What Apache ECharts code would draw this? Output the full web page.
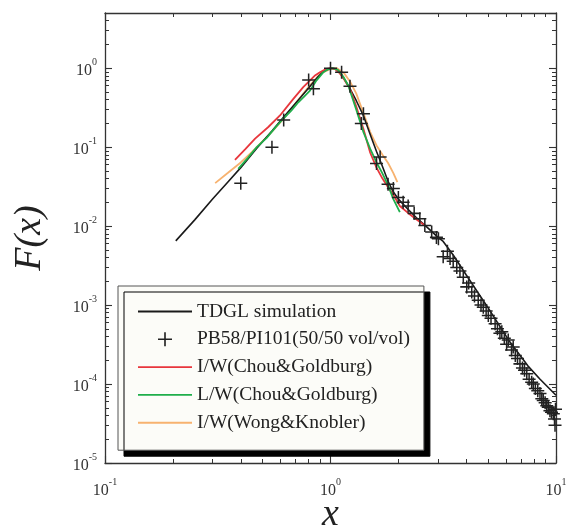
<!DOCTYPE html>
<html><head><meta charset="utf-8">
<script src="https://cdn.jsdelivr.net/npm/echarts@6/dist/echarts.min.js"></script>
<style>html,body{margin:0;padding:0;background:#fff}#c{width:566px;height:528px}</style>
</head><body><div id="c"></div>
<script>
// ---- data ----
const seriesNames = ['TDGL simulation', 'PB58/PI101(50/50 vol/vol)', 'I/W(Chou&Goldburg)', 'L/W(Chou&Goldburg)', 'I/W(Wong&Knobler)'];

const tdglX = [0.206, 0.25, 0.30, 0.35, 0.40, 0.47, 0.55, 0.62, 0.70, 0.80, 0.88, 0.94, 1.00, 1.05, 1.10, 1.20, 1.30, 1.40, 1.50, 1.60, 1.70, 1.80, 1.90, 2.00, 2.20, 2.40, 2.67, 3.00, 3.16, 3.50, 4.00, 5.00, 6.25, 7.50, 8.50, 10.0];
const tdglY = [0.0065, 0.012, 0.022, 0.036, 0.055, 0.096, 0.16, 0.24, 0.36, 0.56, 0.78, 0.93, 1.00, 0.98, 0.90, 0.60, 0.39, 0.25, 0.145, 0.088, 0.057, 0.037, 0.027, 0.022, 0.0165, 0.0128, 0.0098, 0.0072, 0.0064, 0.0043, 0.0024, 0.00092, 0.00034, 0.00017, 0.000115, 0.000072];

const expX = [0.40, 0.55, 0.62, 0.80, 0.84, 1.00, 1.12, 1.22, 1.40, 1.37, 1.66, 1.60, 1.80, 1.90, 2.00, 2.10, 2.21, 2.35, 2.49, 2.62, 2.81, 2.95, 3.01, 3.16, 3.30, 3.39, 3.50, 3.63, 3.75, 3.88, 4.02, 4.10, 4.23, 4.35, 4.52, 4.65, 4.76, 4.90, 5.01, 5.15, 5.37, 5.50, 5.64, 5.75, 5.90, 6.04, 6.14, 6.35, 6.46, 6.60, 6.75, 6.92, 7.10, 7.25, 7.42, 7.60, 7.80, 7.93, 8.10, 8.30, 8.49, 8.65, 8.78, 8.95, 9.10, 9.24, 9.40, 9.55, 9.73, 9.85, 9.90, 9.95];
const expY = [0.035, 0.10, 0.22, 0.71, 0.55, 1.00, 0.89, 0.59, 0.265, 0.20, 0.075, 0.062, 0.034, 0.030, 0.023, 0.020, 0.018, 0.0145, 0.0124, 0.0102, 0.0084, 0.0072, 0.0069, 0.0041, 0.0048, 0.0039, 0.0036, 0.0030, 0.0027, 0.00225, 0.0017, 0.0019, 0.00146, 0.0013, 0.00115, 0.0010, 0.00094, 0.00084, 0.00074, 0.00068, 0.00058, 0.00050, 0.00044, 0.00046, 0.00038, 0.00032, 0.00036, 0.00027, 0.000295, 0.00023, 0.00021, 0.00018, 0.00016, 0.00015, 0.000135, 0.000115, 0.000105, 0.00010, 0.000088, 0.000082, 0.000076, 0.000065, 0.000062, 0.000058, 0.000053, 0.000051, 0.000046, 0.000044, 0.000042, 0.000036, 0.000030, 0.000048];

const redX = [0.377, 0.42, 0.463, 0.53, 0.597, 0.68, 0.757, 0.85, 0.898, 0.95, 1.00, 1.05, 1.10, 1.15, 1.22, 1.30, 1.40, 1.50, 1.60, 1.70, 1.80, 1.90, 2.03, 2.20, 2.40, 2.62];
const redY = [0.069, 0.095, 0.128, 0.18, 0.252, 0.40, 0.575, 0.80, 0.89, 0.97, 1.00, 0.97, 0.86, 0.72, 0.55, 0.33, 0.17, 0.085, 0.055, 0.040, 0.031, 0.025, 0.0180, 0.0148, 0.0122, 0.0102];

const greenX = [0.39, 0.43, 0.471, 0.52, 0.57, 0.617, 0.67, 0.72, 0.76, 0.811, 0.86, 0.93, 0.97, 1.02, 1.08, 1.14, 1.20, 1.30, 1.40, 1.50, 1.60, 1.69, 1.80, 1.90, 2.03];
const greenY = [0.053, 0.073, 0.10, 0.13, 0.178, 0.229, 0.29, 0.37, 0.43, 0.52, 0.68, 0.89, 0.96, 1.00, 0.95, 0.78, 0.60, 0.30, 0.155, 0.095, 0.064, 0.048, 0.033, 0.022, 0.015];

const orangeX = [0.308, 0.35, 0.40, 0.45, 0.54, 0.62, 0.70, 0.80, 0.90, 1.00, 1.07, 1.15, 1.22, 1.30, 1.40, 1.50, 1.60, 1.70, 1.80, 1.90, 1.98];
const orangeY = [0.035, 0.047, 0.064, 0.088, 0.148, 0.23, 0.36, 0.58, 0.85, 0.98, 1.00, 0.86, 0.68, 0.48, 0.27, 0.155, 0.105, 0.080, 0.063, 0.047, 0.036];

const xRange = [0.1, 10];
const yRange = [1e-5, 5];
const minorMultipliers = [2, 3, 4, 5, 6, 7, 8, 9];
const xDecades = [-1, 0];
const yDecades = [-5, -4, -3, -2, -1, 0];

// ---- build ----
const zip = (a, b) => a.map((v, i) => [v, b[i]]);
const minorLog = (decades, maxV) => {
  const out = [];
  decades.forEach(d => minorMultipliers.forEach(m => { const v = m * Math.pow(10, d); if (v <= maxV) out.push(Math.log10(v)); }));
  return out;
};
const FONT = 'Liberation Serif';
const AX = '#333';
const fmt = v => {
  const e = Math.log10(v);
  if (Math.abs(e - Math.round(e)) > 0.01) return '';
  return '{b|10}{s|' + Math.round(e) + '}';
};
const labelRich = {
  b: { fontFamily: FONT, fontSize: 16, color: AX, lineHeight: 22, verticalAlign: 'bottom' },
  s: { fontFamily: FONT, fontSize: 10, color: AX, lineHeight: 12, verticalAlign: 'top' }
};
const majorAxis = (pos, range, label, extra) => Object.assign({
  type: 'log', logBase: 10, min: range[0], max: range[1], position: pos,
  axisLine: { show: true, onZero: false, lineStyle: { color: AX, width: 1.3 } },
  axisTick: { show: true, inside: true, length: 7, lineStyle: { color: AX, width: 1.1 } },
  axisLabel: label || { show: false },
  splitLine: { show: false }, minorTick: { show: false }
}, extra || {});
const minorAxis = (pos, range, ticks) => ({
  type: 'value', min: Math.log10(range[0]), max: Math.log10(range[1]), position: pos,
  axisLine: { show: false, onZero: false },
  axisTick: { show: true, inside: true, length: 4, customValues: ticks, lineStyle: { color: AX, width: 1 } },
  axisLabel: { show: false }, splitLine: { show: false }
});

const xMinor = minorLog(xDecades, xRange[1]);
const yMinor = minorLog(yDecades, yRange[1]);

const plusPath = 'path://M-6,-0.7H6V0.7H-6Z M-0.7,-6H0.7V6H-0.7Z';
const lineIcon = 'path://M0,0H40V1.4H0Z';

const option = {
  animation: false,
  backgroundColor: '#fff',
  grid: { left: 105, right: 10, top: 13, bottom: 65, outerBoundsMode: 'none', containLabel: false },
  xAxis: [
    majorAxis('bottom', xRange, { show: true, formatter: fmt, rich: labelRich, margin: 14 }, {
      name: 'x', nameLocation: 'middle', nameGap: 33, nameMoveOverlap: false,
      nameTextStyle: { fontFamily: FONT, fontStyle: 'italic', fontSize: 38, color: '#222' }
    }),
    majorAxis('top', xRange, null),
    minorAxis('bottom', xRange, xMinor),
    minorAxis('top', xRange, xMinor)
  ],
  yAxis: [
    majorAxis('left', yRange, { show: true, formatter: fmt, rich: labelRich, margin: 8, showMaxLabel: false }, {
      name: 'F(x)', nameLocation: 'middle', nameGap: 56, nameRotate: 90, nameMoveOverlap: false,
      nameTextStyle: { fontFamily: FONT, fontStyle: 'italic', fontSize: 38, color: '#222' }
    }),
    majorAxis('right', yRange, null),
    minorAxis('left', yRange, yMinor),
    minorAxis('right', yRange, yMinor)
  ],
  legend: {
    orient: 'vertical', left: 118, top: 286,
    itemWidth: 54, itemHeight: 14, itemGap: 7.8,
    padding: [15.5, 14, 17.5, 20],
    backgroundColor: '#fcfcf8', borderColor: '#555', borderWidth: 1,
    shadowColor: '#000', shadowOffsetX: 6, shadowOffsetY: 6, shadowBlur: 0,
    textStyle: { fontFamily: FONT, fontSize: 19.5, color: '#222' },
    selectedMode: false,
    data: [
      { name: seriesNames[0], icon: lineIcon },
      { name: seriesNames[1] },
      { name: seriesNames[2], icon: lineIcon },
      { name: seriesNames[3], icon: lineIcon },
      { name: seriesNames[4], icon: lineIcon }
    ]
  },
  series: [
    { name: seriesNames[4], type: 'line', data: zip(orangeX, orangeY), symbol: 'none', z: 2,
      lineStyle: { color: '#f7b26f', width: 1.8 }, itemStyle: { color: '#f7b26f' } },
    { name: seriesNames[0], type: 'line', data: zip(tdglX, tdglY), symbol: 'none', z: 3,
      lineStyle: { color: '#1a1a1a', width: 1.6 }, itemStyle: { color: '#1a1a1a' } },
    { name: seriesNames[2], type: 'line', data: zip(redX, redY), symbol: 'none', z: 4,
      lineStyle: { color: '#e8363c', width: 1.8 }, itemStyle: { color: '#e8363c' } },
    { name: seriesNames[3], type: 'line', data: zip(greenX, greenY), symbol: 'none', z: 5,
      lineStyle: { color: '#1fae4b', width: 1.8 }, itemStyle: { color: '#1fae4b' } },
    { name: seriesNames[1], type: 'scatter', data: zip(expX, expY), symbol: plusPath, symbolSize: 13, z: 6,
      itemStyle: { color: '#222', opacity: 1 } }
  ]
};
const chart = echarts.init(document.getElementById('c'), null, { renderer: 'canvas' });
chart.setOption(option);
</script>
</body></html>
